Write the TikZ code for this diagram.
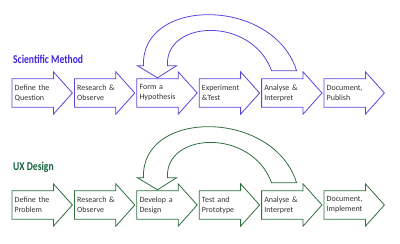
\documentclass[tikz,border=0pt]{standalone}
\usepackage{fontspec}
\setmainfont{Carlito}
\newfontfamily\headfont{Carlito Bold}
\usetikzlibrary{positioning, calc}
\definecolor{sciblue}{RGB}{62,36,222}
\definecolor{sciline}{RGB}{88,70,222}
\definecolor{uxgreen}{RGB}{22,98,58}
\definecolor{uxline}{RGB}{46,112,62}

\begin{document}
\begin{tikzpicture}[
    x=1pt, y=-1pt,
    node distance=0pt and 21pt,
    stepbox/.style={inner xsep=2.5pt, inner ysep=0pt, text width=36pt, minimum height=28pt, align=left, font=\fontsize{8}{10}\selectfont, text=black!80},
    headtitle/.style={font=\headfont\fontsize{12}{14}\selectfont, anchor=base west, inner sep=0pt},
    blockarrow/.style={draw=#1, line width=0.8pt, line join=miter},
    looparrow/.style={draw=#1, fill=white, line width=0.8pt}
]
\useasboundingbox (0,0) rectangle (400,244);

% Scientific Method
\node[headtitle, text=sciblue] (scititle) at (13,63) {\scalebox{0.8}[1]{Scientific Method}};
\node[stepbox, anchor=west] (s1) at (12,93) {Define the\\Question};
\node[stepbox, right=of s1] (s2) {Research~\&\\Observe};
\node[stepbox, right=of s2] (s3) {Form a\\Hypothesis};
\node[stepbox, right=of s3] (s4) {Experiment\\\&Test};
\node[stepbox, right=of s4] (s5) {Analyse~\&\\Interpret};
\node[stepbox, right=of s5] (s6) {Document,\\Publish};

% UX Design
\node[headtitle, text=uxgreen] (uxtitle) at (13,170) {\scalebox{0.8}[1]{UX Design}};
\node[stepbox, anchor=west] (u1) at (12,205) {Define the\\Problem};
\node[stepbox, right=of u1] (u2) {Research~\&\\Observe};
\node[stepbox, right=of u2] (u3) {Develop a\\Design};
\node[stepbox, right=of u3] (u4) {Test and\\Prototype};
\node[stepbox, right=of u4] (u5) {Analyse~\&\\Interpret};
\node[stepbox, right=of u5] (u6) {Document,\\Implement};

% Block arrows
\foreach \n/\c in {s1/sciline, s2/sciline, s3/sciline, s4/sciline, s5/sciline, s6/sciline,
                   u1/uxline, u2/uxline, u3/uxline, u4/uxline, u5/uxline, u6/uxline}
  \draw[blockarrow=\c] (\n.north west) -- (\n.north east) -- ([yshift=7pt]\n.north east)
    -- ([xshift=19pt]\n.east) -- ([yshift=-7pt]\n.south east) -- (\n.south east)
    -- (\n.south west) -- cycle;

% Loop back arrows
\foreach \a/\b/\c in {s5/s3/sciline, u5/u3/uxline}
  \draw[looparrow=\c] ($(\b.north)+(-20,-13)$) -- ($(\b.north)+(-14,-13)$)
    .. controls +(-3,-69) and +(-23,-74) .. ($(\a.north west)+(35,-8)$)
    -- ($(\a.north west)+(10,-8)$)
    .. controls +(-20,-55) and +(-3,-46) .. ($(\b.north)+(10,-13)$)
    -- ($(\b.north)+(19,-13)$) -- ($(\b.north)+(0,-1)$) -- cycle;
\end{tikzpicture}
\end{document}
